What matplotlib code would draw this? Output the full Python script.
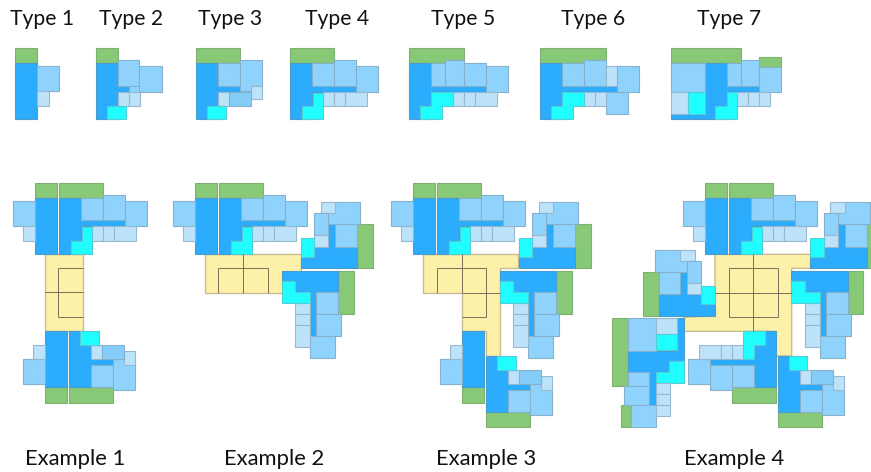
import matplotlib
matplotlib.use('Agg')
import matplotlib.pyplot as plt
from matplotlib.patches import Polygon


def box(x0, y0, x1, y1):
    return [(x0, y0), (x1, y0), (x1, y1), (x0, y1)]


# all coordinates are thirds of a pixel, y going down
type_names = ['Type 1', 'Type 2', 'Type 3', 'Type 4', 'Type 5', 'Type 6', 'Type 7']
type_x = [126, 393, 690, 1011, 1390, 1780, 2188]
example_names = ['Example 1', 'Example 2', 'Example 3', 'Example 4']
example_x = [225, 822, 1458, 2202]

colors = {'blue': '#2bacfd', 'light': '#8fd3fd', 'mid': '#84cdf8', 'pale': '#bde3fb',
          'cyan': '#20fdff', 'green': '#88c977', 'yellow': '#fdf0a9'}
edges = {'blue': '#4a9ccc', 'light': '#86afcb', 'mid': '#86afcb', 'pale': '#98b8cf',
         'cyan': '#55ccd6', 'green': '#80af74', 'yellow': '#c9bd94'}

type_1 = [('green', box(44, 144, 110, 190)), ('blue', box(44, 190, 110, 358)),
          ('light', box(110, 199, 176, 274)), ('pale', box(110, 274, 148, 318))]
type_2 = [('green', box(288, 144, 354, 190)),
          ('blue', [(288, 190), (354, 190), (354, 257), (388, 257), (388, 275), (354, 275), (354, 358), (288, 358)]),
          ('light', box(354, 181, 418, 257)), ('light', box(388, 257, 418, 275)), ('light', box(418, 199, 486, 275)),
          ('pale', box(354, 275, 388, 318)), ('pale', box(388, 275, 420, 318)), ('cyan', box(322, 318, 378, 358))]
type_3 = [('green', box(589, 144, 720, 190)),
          ('blue', [(589, 190), (655, 190), (655, 257), (722, 257), (722, 275), (655, 275), (655, 358), (589, 358)]),
          ('light', box(655, 190, 720, 257)), ('light', box(720, 181, 786, 274)), ('pale', box(753, 258, 786, 298)),
          ('pale', box(655, 275, 688, 318)), ('mid', box(688, 275, 753, 318)), ('cyan', box(622, 318, 678, 358))]
type_4 = [('green', box(870, 144, 1002, 190)),
          ('blue', [(870, 190), (936, 190), (936, 257), (1068, 257), (1068, 275), (936, 275), (936, 358), (870, 358)]),
          ('light', box(936, 190, 1002, 257)), ('light', box(1002, 181, 1068, 257)), ('light', box(1068, 199, 1134, 275)),
          ('pale', box(968, 275, 1002, 318)), ('pale', box(1002, 275, 1034, 318)), ('pale', box(1034, 275, 1100, 318)),
          ('cyan', [(938, 278), (968, 278), (968, 358), (905, 358), (905, 318), (938, 318)])]
type_5 = [('green', box(56, 144, 222, 190)),
          ('blue', [(56, 190), (122, 190), (122, 257), (288, 257), (288, 275), (122, 275), (122, 358), (56, 358)]),
          ('light', box(122, 190, 164, 257)), ('light', box(164, 181, 222, 257)), ('light', box(222, 190, 288, 257)),
          ('light', box(288, 199, 354, 275)),
          ('pale', box(188, 275, 222, 318)), ('pale', box(222, 275, 254, 318)), ('pale', box(254, 275, 320, 318)),
          ('cyan', [(122, 275), (188, 275), (188, 318), (156, 318), (156, 358), (90, 358), (90, 318), (122, 318)])]
type_6 = [('green', box(450, 144, 648, 190)),
          ('blue', [(450, 190), (516, 190), (516, 257), (682, 257), (682, 275), (516, 275), (516, 358), (450, 358)]),
          ('light', box(516, 190, 583, 257)), ('light', box(583, 181, 648, 257)), ('pale', box(648, 199, 682, 257)),
          ('light', box(682, 199, 748, 275)), ('light', box(648, 275, 714, 342)),
          ('pale', box(582, 275, 614, 318)), ('pale', box(614, 275, 648, 318)),
          ('cyan', [(516, 275), (582, 275), (582, 318), (550, 318), (550, 358), (484, 358), (484, 318), (516, 318)])]
type_7 = [('green', box(844, 144, 1052, 190)), ('green', box(1108, 172, 1174, 200)),
          ('blue', [(944, 190), (1010, 190), (1010, 257), (1108, 257), (1108, 275), (1010, 275), (1010, 358),
                    (844, 358), (844, 342), (944, 342)]),
          ('light', box(844, 190, 944, 275)), ('light', box(1010, 190, 1052, 257)), ('light', box(1052, 181, 1108, 257)),
          ('light', box(1108, 200, 1174, 275)), ('pale', box(844, 275, 894, 342)), ('cyan', box(894, 275, 944, 342)),
          ('pale', box(1042, 275, 1074, 318)), ('pale', box(1074, 275, 1108, 318)), ('pale', box(1108, 275, 1140, 318)),
          ('cyan', [(1010, 275), (1042, 275), (1042, 358), (976, 358), (976, 318), (1010, 318)])]

top_left = [('green', box(106, 38, 172, 85)), ('blue', box(106, 85, 172, 253)),
            ('light', box(40, 94, 106, 168)), ('pale', box(70, 168, 106, 212))]
bottom_left = [('green', box(136, 652, 201, 698)), ('blue', box(136, 484, 201, 652)),
               ('light', box(70, 568, 136, 642)), ('pale', box(98, 526, 136, 568))]
bottom_right = [('green', box(208, 652, 339, 698)),
                ('blue', [(208, 484), (273, 484), (273, 568), (339, 568), (339, 586), (273, 586), (273, 652), (208, 652)]),
                ('light', box(273, 586, 339, 652)), ('light', box(339, 568, 405, 660)), ('pale', box(372, 544, 405, 586)),
                ('pale', box(273, 526, 306, 568)), ('mid', box(306, 526, 372, 568)), ('cyan', box(240, 484, 296, 526))]
right_upper = [('green', box(577, 163, 624, 295)),
               ('blue', [(490, 163), (510, 163), (510, 230), (577, 230), (577, 295), (407, 295), (407, 230), (490, 230)]),
               ('light', box(510, 163, 577, 230)), ('light', box(490, 97, 585, 163)), ('pale', box(467, 97, 510, 130)),
               ('light', box(448, 130, 490, 196)), ('pale', box(448, 196, 490, 230)), ('cyan', box(407, 205, 448, 262))]
right_lower = [('green', box(519, 302, 566, 431)),
               ('blue', [(350, 302), (519, 302), (519, 367), (453, 367), (453, 497), (435, 497), (435, 367), (350, 367)]),
               ('light', box(453, 367, 519, 431)), ('light', box(453, 431, 528, 497)), ('light', box(435, 497, 510, 563)),
               ('pale', box(391, 400, 435, 431)), ('pale', box(391, 431, 435, 464)), ('pale', box(391, 464, 435, 530)),
               ('cyan', [(350, 334), (391, 334), (391, 367), (435, 367), (435, 400), (350, 400)])]
left_upper = [('green', box(128, 305, 177, 437)),
              ('blue', [(240, 305), (260, 305), (260, 372), (303, 372), (345, 372), (345, 437), (177, 437), (177, 372), (240, 372)]),
              ('light', box(177, 305, 240, 372)), ('light', box(166, 240, 260, 305)), ('pale', box(241, 240, 284, 272)),
              ('light', box(260, 272, 303, 338)), ('pale', box(260, 338, 303, 372)), ('cyan', box(303, 347, 345, 403))]
left_lower = [('green', box(35, 443, 83, 648)), ('green', box(63, 704, 92, 770)),
              ('blue', [(232, 443), (251, 443), (251, 606), (167, 606), (167, 704), (148, 704), (148, 606), (83, 606),
                        (83, 542), (232, 542)]),
              ('light', box(83, 443, 167, 542)), ('pale', box(167, 443, 232, 492)), ('cyan', box(167, 492, 232, 540)),
              ('cyan', [(208, 574), (251, 574), (251, 640), (167, 640), (167, 606), (208, 606)]),
              ('light', box(83, 606, 148, 648)), ('light', box(73, 648, 148, 704)), ('light', box(92, 704, 167, 770)),
              ('pale', box(167, 640, 209, 672)), ('pale', box(167, 672, 209, 704)), ('pale', box(167, 704, 209, 737))]
bottom_unit = [('green', box(397, 652, 527, 698)),
               ('blue', [(463, 484), (527, 484), (527, 652), (463, 652), (463, 586), (331, 586), (331, 568), (463, 568)]),
               ('light', box(397, 586, 463, 652)), ('light', box(331, 586, 397, 660)), ('light', box(265, 568, 331, 642)),
               ('pale', box(298, 526, 364, 568)), ('pale', box(364, 526, 397, 568)), ('pale', box(397, 526, 430, 568)),
               ('cyan', [(430, 484), (495, 484), (495, 526), (463, 526), (463, 568), (430, 568)])]

yellow_1 = [(134, 763), (249, 763), (249, 994), (134, 994)]
yellow_2 = [(616, 763), (902, 763), (902, 878), (616, 878)]
yellow_3 = [(1269, 763), (1555, 763), (1555, 805), (1500, 805), (1500, 1068), (1459, 1068), (1459, 994),
            (1385, 994), (1385, 878), (1269, 878)]
yellow_4 = [(2145, 763), (2432, 763), (2432, 805), (2375, 805), (2375, 1068), (2327, 1068), (2327, 994),
            (2052, 994), (2052, 952), (2145, 947)]

lines_1 = [(175, 805, 249, 805), (175, 805, 175, 952), (175, 952, 249, 952), (134, 877, 249, 877)]
lines_2 = [(730, 763, 730, 878), (655, 805, 805, 805), (655, 805, 655, 878), (805, 805, 805, 878)]
lines_3 = [(1385, 763, 1385, 878), (1310, 805, 1458, 805), (1310, 805, 1310, 878), (1458, 805, 1458, 952),
           (1385, 952, 1458, 952), (1385, 878, 1500, 878)]
lines_4 = [(2186, 805, 2334, 805), (2186, 952, 2334, 952), (2186, 805, 2186, 952), (2334, 805, 2334, 952),
           (2260, 763, 2260, 994), (2145, 878, 2375, 878)]

fig = plt.figure(figsize=(8.71, 4.72), dpi=100)
ax = fig.add_axes([0, 0, 1, 1])
ax.set_xlim(0, 2613)
ax.set_ylim(1416, 0)
ax.axis('off')


def draw(unit, dx=0, dy=0):
    for kind, pts in unit:
        ax.add_patch(Polygon([(x + dx, y + dy) for x, y in pts], closed=True, facecolor=colors[kind],
                             edgecolor=edges[kind], linewidth=0.8, joinstyle='miter'))


def draw_yard(outline, lines):
    ax.add_patch(Polygon(outline, closed=True, facecolor=colors['yellow'], edgecolor=edges['yellow'], linewidth=1))
    for x0, y0, x1, y1 in lines:
        ax.plot([x0, x1], [y0, y1], color='#777159', linewidth=0.7, solid_capstyle='butt')


for unit in [type_1, type_2, type_3, type_4]:
    draw(unit)
for unit in [type_5, type_6, type_7]:
    draw(unit, 1170, 0)

draw_yard(yellow_1, lines_1)
draw_yard(yellow_2, lines_2)
draw_yard(yellow_3, lines_3)
draw_yard(yellow_4, lines_4)

# the top pair sits at the same height in every example
for dx in [0, 479, 1133, 2009]:
    draw(top_left, dx, 510)
    draw(type_4, dx - 692, 404)

draw(bottom_left, 0, 510)
draw(bottom_right, 0, 510)

for dx in [495, 1149, 2024]:
    draw(right_upper, dx, 510)
    draw(right_lower, dx, 510)

draw(bottom_left, 1251, 510)
draw(bottom_right, 1251, 584)
draw(bottom_right, 2126, 584)
draw(bottom_unit, 1800, 510)
draw(left_upper, 1800, 510)
draw(left_lower, 1800, 510)

for name, x in zip(type_names, type_x):
    ax.text(x, 57, name, ha='center', va='center', fontsize=15.2, family='Lato', color='#111111')
for name, x in zip(example_names, example_x):
    ax.text(x, 1376, name, ha='center', va='center', fontsize=15.8, family='Lato', color='#111111')

fig.savefig('out.png', dpi=100)
